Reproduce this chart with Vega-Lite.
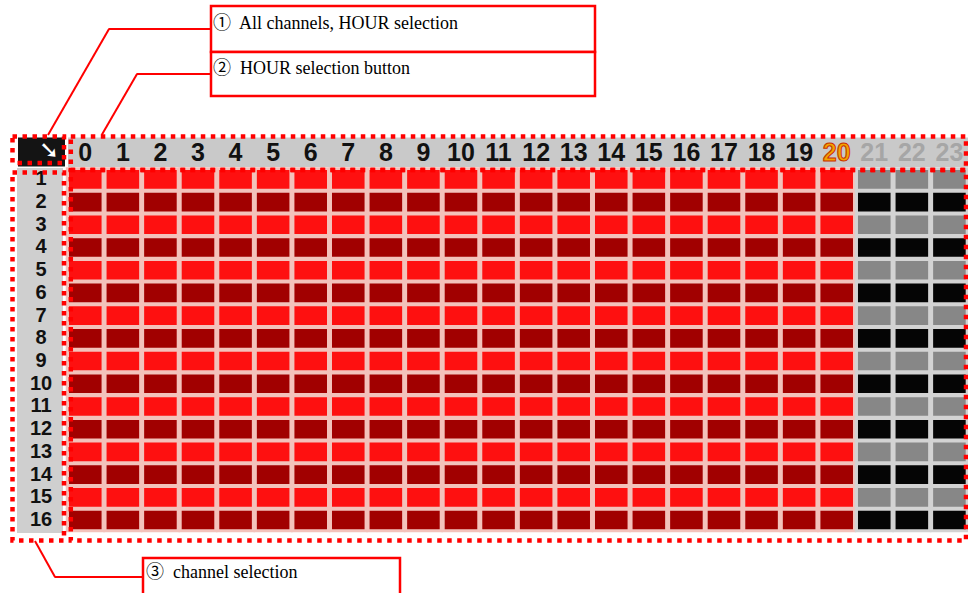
{
  "$schema": "https://vega.github.io/schema/vega-lite/v6.json",
  "width": 968,
  "height": 593,
  "autosize": "none",
  "padding": 0,
  "background": "white",
  "config": {"view": {"stroke": null}, "axis": {"disable": true}, "legend": {"disable": true}},
  "datasets": {
    "cells": [
      {"c":1,"0":"RL","1":"RL","2":"RL","3":"RL","4":"RL","5":"RL","6":"RL","7":"RL","8":"RL","9":"RL","10":"RL","11":"RL","12":"RL","13":"RL","14":"RL","15":"RL","16":"RL","17":"RL","18":"RL","19":"RL","20":"RL","21":"OL","22":"OL","23":"OL"},
      {"c":2,"0":"RD","1":"RD","2":"RD","3":"RD","4":"RD","5":"RD","6":"RD","7":"RD","8":"RD","9":"RD","10":"RD","11":"RD","12":"RD","13":"RD","14":"RD","15":"RD","16":"RD","17":"RD","18":"RD","19":"RD","20":"RD","21":"OD","22":"OD","23":"OD"},
      {"c":3,"0":"RL","1":"RL","2":"RL","3":"RL","4":"RL","5":"RL","6":"RL","7":"RL","8":"RL","9":"RL","10":"RL","11":"RL","12":"RL","13":"RL","14":"RL","15":"RL","16":"RL","17":"RL","18":"RL","19":"RL","20":"RL","21":"OL","22":"OL","23":"OL"},
      {"c":4,"0":"RD","1":"RD","2":"RD","3":"RD","4":"RD","5":"RD","6":"RD","7":"RD","8":"RD","9":"RD","10":"RD","11":"RD","12":"RD","13":"RD","14":"RD","15":"RD","16":"RD","17":"RD","18":"RD","19":"RD","20":"RD","21":"OD","22":"OD","23":"OD"},
      {"c":5,"0":"RL","1":"RL","2":"RL","3":"RL","4":"RL","5":"RL","6":"RL","7":"RL","8":"RL","9":"RL","10":"RL","11":"RL","12":"RL","13":"RL","14":"RL","15":"RL","16":"RL","17":"RL","18":"RL","19":"RL","20":"RL","21":"OL","22":"OL","23":"OL"},
      {"c":6,"0":"RD","1":"RD","2":"RD","3":"RD","4":"RD","5":"RD","6":"RD","7":"RD","8":"RD","9":"RD","10":"RD","11":"RD","12":"RD","13":"RD","14":"RD","15":"RD","16":"RD","17":"RD","18":"RD","19":"RD","20":"RD","21":"OD","22":"OD","23":"OD"},
      {"c":7,"0":"RL","1":"RL","2":"RL","3":"RL","4":"RL","5":"RL","6":"RL","7":"RL","8":"RL","9":"RL","10":"RL","11":"RL","12":"RL","13":"RL","14":"RL","15":"RL","16":"RL","17":"RL","18":"RL","19":"RL","20":"RL","21":"OL","22":"OL","23":"OL"},
      {"c":8,"0":"RD","1":"RD","2":"RD","3":"RD","4":"RD","5":"RD","6":"RD","7":"RD","8":"RD","9":"RD","10":"RD","11":"RD","12":"RD","13":"RD","14":"RD","15":"RD","16":"RD","17":"RD","18":"RD","19":"RD","20":"RD","21":"OD","22":"OD","23":"OD"},
      {"c":9,"0":"RL","1":"RL","2":"RL","3":"RL","4":"RL","5":"RL","6":"RL","7":"RL","8":"RL","9":"RL","10":"RL","11":"RL","12":"RL","13":"RL","14":"RL","15":"RL","16":"RL","17":"RL","18":"RL","19":"RL","20":"RL","21":"OL","22":"OL","23":"OL"},
      {"c":10,"0":"RD","1":"RD","2":"RD","3":"RD","4":"RD","5":"RD","6":"RD","7":"RD","8":"RD","9":"RD","10":"RD","11":"RD","12":"RD","13":"RD","14":"RD","15":"RD","16":"RD","17":"RD","18":"RD","19":"RD","20":"RD","21":"OD","22":"OD","23":"OD"},
      {"c":11,"0":"RL","1":"RL","2":"RL","3":"RL","4":"RL","5":"RL","6":"RL","7":"RL","8":"RL","9":"RL","10":"RL","11":"RL","12":"RL","13":"RL","14":"RL","15":"RL","16":"RL","17":"RL","18":"RL","19":"RL","20":"RL","21":"OL","22":"OL","23":"OL"},
      {"c":12,"0":"RD","1":"RD","2":"RD","3":"RD","4":"RD","5":"RD","6":"RD","7":"RD","8":"RD","9":"RD","10":"RD","11":"RD","12":"RD","13":"RD","14":"RD","15":"RD","16":"RD","17":"RD","18":"RD","19":"RD","20":"RD","21":"OD","22":"OD","23":"OD"},
      {"c":13,"0":"RL","1":"RL","2":"RL","3":"RL","4":"RL","5":"RL","6":"RL","7":"RL","8":"RL","9":"RL","10":"RL","11":"RL","12":"RL","13":"RL","14":"RL","15":"RL","16":"RL","17":"RL","18":"RL","19":"RL","20":"RL","21":"OL","22":"OL","23":"OL"},
      {"c":14,"0":"RD","1":"RD","2":"RD","3":"RD","4":"RD","5":"RD","6":"RD","7":"RD","8":"RD","9":"RD","10":"RD","11":"RD","12":"RD","13":"RD","14":"RD","15":"RD","16":"RD","17":"RD","18":"RD","19":"RD","20":"RD","21":"OD","22":"OD","23":"OD"},
      {"c":15,"0":"RL","1":"RL","2":"RL","3":"RL","4":"RL","5":"RL","6":"RL","7":"RL","8":"RL","9":"RL","10":"RL","11":"RL","12":"RL","13":"RL","14":"RL","15":"RL","16":"RL","17":"RL","18":"RL","19":"RL","20":"RL","21":"OL","22":"OL","23":"OL"},
      {"c":16,"0":"RD","1":"RD","2":"RD","3":"RD","4":"RD","5":"RD","6":"RD","7":"RD","8":"RD","9":"RD","10":"RD","11":"RD","12":"RD","13":"RD","14":"RD","15":"RD","16":"RD","17":"RD","18":"RD","19":"RD","20":"RD","21":"OD","22":"OD","23":"OD"}
    ],
    "hours": [
      {"h":0,"t":"set"},{"h":1,"t":"set"},{"h":2,"t":"set"},{"h":3,"t":"set"},{"h":4,"t":"set"},{"h":5,"t":"set"},
      {"h":6,"t":"set"},{"h":7,"t":"set"},{"h":8,"t":"set"},{"h":9,"t":"set"},{"h":10,"t":"set"},{"h":11,"t":"set"},
      {"h":12,"t":"set"},{"h":13,"t":"set"},{"h":14,"t":"set"},{"h":15,"t":"set"},{"h":16,"t":"set"},{"h":17,"t":"set"},
      {"h":18,"t":"set"},{"h":19,"t":"set"},{"h":20,"t":"now"},{"h":21,"t":"unset"},{"h":22,"t":"unset"},{"h":23,"t":"unset"}
    ],
    "channels": [
      {"c":1},{"c":2},{"c":3},{"c":4},{"c":5},{"c":6},{"c":7},{"c":8},
      {"c":9},{"c":10},{"c":11},{"c":12},{"c":13},{"c":14},{"c":15},{"c":16}
    ]
  },
  "resolve": {"scale": {"x": "independent", "y": "independent", "color": "independent"}},
  "layer": [
    {
      "data": {"values": [{}]},
      "layer": [
        {
          "mark": {"type": "rect", "color": "#c9c9c9"},
          "encoding": {
            "x": {"datum": 68, "type": "quantitative", "scale": {"domain": [0, 968], "nice": false, "zero": false}},
            "x2": {"datum": 968},
            "y": {"datum": 137.5, "type": "quantitative", "scale": {"domain": [0, 593], "nice": false, "zero": false, "reverse": true}},
            "y2": {"datum": 167}
          }
        },
        {
          "mark": {"type": "rect", "color": "#cfcfcf"},
          "encoding": {
            "x": {"datum": 17, "type": "quantitative", "scale": {"domain": [0, 968], "nice": false, "zero": false}},
            "x2": {"datum": 63},
            "y": {"datum": 168, "type": "quantitative", "scale": {"domain": [0, 593], "nice": false, "zero": false, "reverse": true}},
            "y2": {"datum": 533}
          }
        },
        {
          "mark": {"type": "rect", "color": "#141414"},
          "encoding": {
            "x": {"datum": 18, "type": "quantitative", "scale": {"domain": [0, 968], "nice": false, "zero": false}},
            "x2": {"datum": 65},
            "y": {"datum": 137.5, "type": "quantitative", "scale": {"domain": [0, 593], "nice": false, "zero": false, "reverse": true}},
            "y2": {"datum": 166.5}
          }
        }
      ]
    },
    {
      "data": {"name": "cells"},
      "transform": [
        {"fold": ["0","1","2","3","4","5","6","7","8","9","10","11","12","13","14","15","16","17","18","19","20","21","22","23"], "as": ["h", "s"]}
      ],
      "encoding": {
        "x": {
          "field": "h", "type": "ordinal",
          "scale": {"type": "band", "domain": ["0","1","2","3","4","5","6","7","8","9","10","11","12","13","14","15","16","17","18","19","20","21","22","23"], "range": [66.5, 968.2], "paddingInner": 0.133, "paddingOuter": 0.0665}
        },
        "y": {
          "field": "c", "type": "ordinal",
          "scale": {"type": "band", "domain": [1,2,3,4,5,6,7,8,9,10,11,12,13,14,15,16], "range": [168, 531.4], "paddingInner": 0.18, "paddingOuter": 0.09}
        }
      },
      "layer": [
        {
          "mark": {"type": "rect", "width": {"band": 1.2}, "height": {"band": 1.3}},
          "encoding": {
            "fill": {"condition": {"test": "datum.s === 'RL' || datum.s === 'RD'", "value": "#f3c2bb"}, "value": "#d3d3d3"}
          }
        },
        {
          "mark": {"type": "rect"},
          "encoding": {
            "color": {"field": "s", "type": "nominal", "scale": {"domain": ["RL", "RD", "OL", "OD"], "range": ["#fe1010", "#a10000", "#878787", "#050505"]}}
          }
        }
      ]
    },
    {
      "data": {"name": "hours"},
      "mark": {"type": "text", "font": "Liberation Sans, Arial, sans-serif", "fontWeight": "bold", "fontSize": 25, "align": "center", "baseline": "middle"},
      "encoding": {
        "x": {
          "field": "h", "type": "ordinal",
          "scale": {"type": "band", "domain": [0,1,2,3,4,5,6,7,8,9,10,11,12,13,14,15,16,17,18,19,20,21,22,23], "range": [66.5, 968.2], "paddingInner": 0.133, "paddingOuter": 0.0665}
        },
        "y": {"datum": 153, "type": "quantitative", "scale": {"domain": [0, 593], "nice": false, "zero": false, "reverse": true}},
        "text": {"field": "h"},
        "color": {"field": "t", "type": "nominal", "scale": {"domain": ["set", "now", "unset"], "range": ["#111111", "#f2a400", "#a6a6a6"]}},
        "stroke": {"condition": {"test": "datum.t === 'now'", "value": "#c83000"}, "value": null},
        "strokeWidth": {"value": 1}
      }
    },
    {
      "data": {"name": "channels"},
      "mark": {"type": "text", "font": "Liberation Sans, Arial, sans-serif", "fontWeight": "bold", "fontSize": 20, "align": "center", "baseline": "middle", "color": "#111111"},
      "encoding": {
        "x": {"datum": 41, "type": "quantitative", "scale": {"domain": [0, 968], "nice": false, "zero": false}},
        "y": {
          "field": "c", "type": "ordinal",
          "scale": {"type": "band", "domain": [1,2,3,4,5,6,7,8,9,10,11,12,13,14,15,16], "range": [168, 531.4], "paddingInner": 0.18, "paddingOuter": 0.09}
        },
        "text": {"field": "c"}
      }
    },
    {
      "data": {"values": [{}]},
      "layer": [
        {
          "mark": {"type": "text", "text": "➘", "font": "DejaVu Sans", "fontSize": 24, "fontWeight": "bold", "color": "white", "align": "center", "baseline": "middle"},
          "encoding": {
            "x": {"datum": 49, "type": "quantitative", "scale": {"domain": [0, 968], "nice": false, "zero": false}},
            "y": {"datum": 151, "type": "quantitative", "scale": {"domain": [0, 593], "nice": false, "zero": false, "reverse": true}}
          }
        },
        {
          "mark": {"type": "rect", "fillOpacity": 0, "stroke": "#ff0000", "strokeWidth": 4.5, "strokeDash": [4.5, 5.5]},
          "encoding": {
            "x": {"datum": 12.5, "type": "quantitative", "scale": {"domain": [0, 968], "nice": false, "zero": false}},
            "x2": {"datum": 64},
            "y": {"datum": 136.5, "type": "quantitative", "scale": {"domain": [0, 593], "nice": false, "zero": false, "reverse": true}},
            "y2": {"datum": 163}
          }
        },
        {
          "mark": {"type": "rect", "fillOpacity": 0, "stroke": "#ff0000", "strokeWidth": 4.5, "strokeDash": [4.5, 5.5]},
          "encoding": {
            "x": {"datum": 12.5, "type": "quantitative", "scale": {"domain": [0, 968], "nice": false, "zero": false}},
            "x2": {"datum": 64},
            "y": {"datum": 172.5, "type": "quantitative", "scale": {"domain": [0, 593], "nice": false, "zero": false, "reverse": true}},
            "y2": {"datum": 540.5}
          }
        },
        {
          "mark": {"type": "rect", "fillOpacity": 0, "stroke": "#ff0000", "strokeWidth": 4.5, "strokeDash": [4.5, 5.5]},
          "encoding": {
            "x": {"datum": 70.8, "type": "quantitative", "scale": {"domain": [0, 968], "nice": false, "zero": false}},
            "x2": {"datum": 966},
            "y": {"datum": 136.5, "type": "quantitative", "scale": {"domain": [0, 593], "nice": false, "zero": false, "reverse": true}},
            "y2": {"datum": 170}
          }
        },
        {
          "mark": {"type": "rect", "fillOpacity": 0, "stroke": "#ff0000", "strokeWidth": 4.5, "strokeDash": [4.5, 5.5]},
          "encoding": {
            "x": {"datum": 70.8, "type": "quantitative", "scale": {"domain": [0, 968], "nice": false, "zero": false}},
            "x2": {"datum": 966},
            "y": {"datum": 170, "type": "quantitative", "scale": {"domain": [0, 593], "nice": false, "zero": false, "reverse": true}},
            "y2": {"datum": 540.5}
          }
        },
        {
          "mark": {"type": "rect", "fill": "white", "stroke": "#ff0000", "strokeWidth": 2.5},
          "encoding": {
            "x": {"datum": 211, "type": "quantitative", "scale": {"domain": [0, 968], "nice": false, "zero": false}},
            "x2": {"datum": 595},
            "y": {"datum": 6, "type": "quantitative", "scale": {"domain": [0, 593], "nice": false, "zero": false, "reverse": true}},
            "y2": {"datum": 52}
          }
        },
        {
          "mark": {"type": "rect", "fill": "white", "stroke": "#ff0000", "strokeWidth": 2.5},
          "encoding": {
            "x": {"datum": 211, "type": "quantitative", "scale": {"domain": [0, 968], "nice": false, "zero": false}},
            "x2": {"datum": 595},
            "y": {"datum": 52, "type": "quantitative", "scale": {"domain": [0, 593], "nice": false, "zero": false, "reverse": true}},
            "y2": {"datum": 96}
          }
        },
        {
          "mark": {"type": "rect", "fill": "white", "stroke": "#ff0000", "strokeWidth": 2.5},
          "encoding": {
            "x": {"datum": 143, "type": "quantitative", "scale": {"domain": [0, 968], "nice": false, "zero": false}},
            "x2": {"datum": 400},
            "y": {"datum": 558, "type": "quantitative", "scale": {"domain": [0, 593], "nice": false, "zero": false, "reverse": true}},
            "y2": {"datum": 600}
          }
        },
        {
          "mark": {"type": "rule", "color": "#ff0000", "strokeWidth": 2},
          "encoding": {
            "x": {"datum": 48, "type": "quantitative", "scale": {"domain": [0, 968], "nice": false, "zero": false}},
            "y": {"datum": 135, "type": "quantitative", "scale": {"domain": [0, 593], "nice": false, "zero": false, "reverse": true}},
            "x2": {"datum": 109},
            "y2": {"datum": 29}
          }
        },
        {
          "mark": {"type": "rule", "color": "#ff0000", "strokeWidth": 2},
          "encoding": {
            "x": {"datum": 108.5, "type": "quantitative", "scale": {"domain": [0, 968], "nice": false, "zero": false}},
            "y": {"datum": 29, "type": "quantitative", "scale": {"domain": [0, 593], "nice": false, "zero": false, "reverse": true}},
            "x2": {"datum": 211},
            "y2": {"datum": 29}
          }
        },
        {
          "mark": {"type": "rule", "color": "#ff0000", "strokeWidth": 2},
          "encoding": {
            "x": {"datum": 101.7, "type": "quantitative", "scale": {"domain": [0, 968], "nice": false, "zero": false}},
            "y": {"datum": 135, "type": "quantitative", "scale": {"domain": [0, 593], "nice": false, "zero": false, "reverse": true}},
            "x2": {"datum": 137},
            "y2": {"datum": 74}
          }
        },
        {
          "mark": {"type": "rule", "color": "#ff0000", "strokeWidth": 2},
          "encoding": {
            "x": {"datum": 136.5, "type": "quantitative", "scale": {"domain": [0, 968], "nice": false, "zero": false}},
            "y": {"datum": 74, "type": "quantitative", "scale": {"domain": [0, 593], "nice": false, "zero": false, "reverse": true}},
            "x2": {"datum": 211},
            "y2": {"datum": 74}
          }
        },
        {
          "mark": {"type": "rule", "color": "#ff0000", "strokeWidth": 2},
          "encoding": {
            "x": {"datum": 35, "type": "quantitative", "scale": {"domain": [0, 968], "nice": false, "zero": false}},
            "y": {"datum": 541, "type": "quantitative", "scale": {"domain": [0, 593], "nice": false, "zero": false, "reverse": true}},
            "x2": {"datum": 55},
            "y2": {"datum": 577}
          }
        },
        {
          "mark": {"type": "rule", "color": "#ff0000", "strokeWidth": 2},
          "encoding": {
            "x": {"datum": 54.5, "type": "quantitative", "scale": {"domain": [0, 968], "nice": false, "zero": false}},
            "y": {"datum": 577, "type": "quantitative", "scale": {"domain": [0, 593], "nice": false, "zero": false, "reverse": true}},
            "x2": {"datum": 143},
            "y2": {"datum": 577}
          }
        },
        {
          "mark": {"type": "text", "text": "①\u00a0 All channels, HOUR selection", "font": "Liberation Serif, Noto Sans CJK JP, serif", "fontSize": 18, "color": "#000000", "align": "left", "baseline": "alphabetic"},
          "encoding": {
            "x": {"datum": 213, "type": "quantitative", "scale": {"domain": [0, 968], "nice": false, "zero": false}},
            "y": {"datum": 28.5, "type": "quantitative", "scale": {"domain": [0, 593], "nice": false, "zero": false, "reverse": true}}
          }
        },
        {
          "mark": {"type": "text", "text": "②\u00a0 HOUR selection button", "font": "Liberation Serif, Noto Sans CJK JP, serif", "fontSize": 18, "color": "#000000", "align": "left", "baseline": "alphabetic"},
          "encoding": {
            "x": {"datum": 213, "type": "quantitative", "scale": {"domain": [0, 968], "nice": false, "zero": false}},
            "y": {"datum": 74, "type": "quantitative", "scale": {"domain": [0, 593], "nice": false, "zero": false, "reverse": true}}
          }
        },
        {
          "mark": {"type": "text", "text": "③\u00a0 channel selection", "font": "Liberation Serif, Noto Sans CJK JP, serif", "fontSize": 18, "color": "#000000", "align": "left", "baseline": "alphabetic"},
          "encoding": {
            "x": {"datum": 146, "type": "quantitative", "scale": {"domain": [0, 968], "nice": false, "zero": false}},
            "y": {"datum": 578, "type": "quantitative", "scale": {"domain": [0, 593], "nice": false, "zero": false, "reverse": true}}
          }
        }
      ]
    }
  ]
}
